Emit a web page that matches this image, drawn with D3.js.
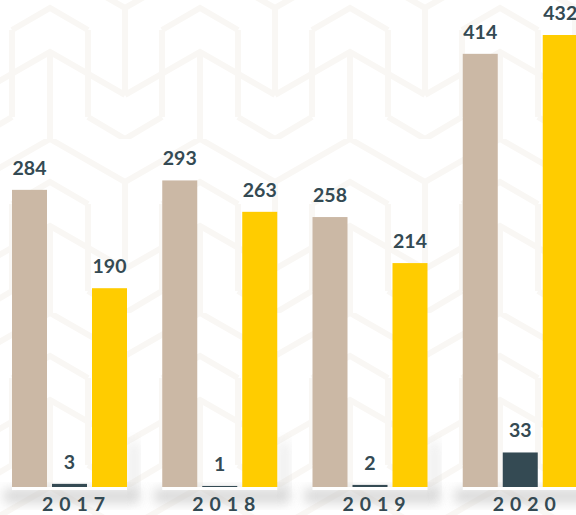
<!DOCTYPE html>
<html><head><meta charset="utf-8">
<script src="https://cdn.jsdelivr.net/npm/d3@7"></script>
<style>html,body{margin:0;padding:0;background:#fff;}svg{display:block;}</style>
</head><body><svg id="c" width="576" height="515"></svg>
<script>
const years = ["2017","2018","2019","2020"];
const seriesA = [284, 293, 258, 414];
const seriesB = [3, 1, 2, 33];
const seriesC = [190, 263, 214, 432];
const seriesColors = ["#cbb8a5", "#344a53", "#ffcc00"];

const W = 576, H = 515;
const svg = d3.select("#c");
const defs = svg.append("defs");

// faint background pattern
const pat = defs.append("pattern").attr("id","bgp").attr("patternUnits","userSpaceOnUse")
  .attr("width",150).attr("height",174).attr("x",-25).attr("y",-35);
const pth = [
  "M0,43 L75,0 L150,43", "M0,130 L75,87 L150,130", "M0,43 L0,130", "M150,43 L150,130",
  "M75,87 L75,174", "M37,65 L37,152", "M113,65 L113,152", "M37,65 L75,43 L113,65",
  "M0,174 L37,152", "M150,174 L113,152"
];
pth.forEach(p => pat.append("path").attr("d",p).attr("fill","none").attr("stroke","#f9f7f4").attr("stroke-width",6));
svg.append("rect").attr("width",W).attr("height",H).attr("fill","url(#bgp)");

const blur = defs.append("filter").attr("id","blur").attr("x","-20%").attr("y","-50%").attr("width","140%").attr("height","200%");
blur.append("feGaussianBlur").attr("stdDeviation",6);

const x0 = d3.scaleBand().domain(years).range([-13, 588]).paddingInner(0).paddingOuter(0);
const keys = ["a","b","c"];
const x1 = d3.scaleBand().domain(keys).range([25, 140]).paddingInner(0.125);
const baseY = 487;
const y = d3.scaleLinear().domain([0, 432]).range([baseY, baseY - 452]);

const data = years.map((yr,i) => ({year: yr, vals: [seriesA[i], seriesB[i], seriesC[i]]}));

const groups = svg.selectAll("g.grp").data(data).join("g").attr("class","grp")
  .attr("transform", d => `translate(${x0(d.year)},0)`);

// soft shadows
groups.append("rect").attr("x", x1("a")-8).attr("y", baseY+2).attr("width", x1("c")+x1.bandwidth()-x1("a")+20).attr("height", 14)
  .attr("fill","#bdbdbd").attr("opacity",0.6).attr("filter","url(#blur)");
groups.append("rect").attr("x", x1("c")+x1.bandwidth()+2).attr("y", baseY-45).attr("width", 10).attr("height", 55)
  .attr("fill","#c8c8c8").attr("opacity",0.35).attr("filter","url(#blur)");
groups.append("rect").attr("x", x1("a")).attr("y", baseY).attr("width", x1("c")+x1.bandwidth()-x1("a")).attr("height", 3).attr("fill","#fff");

groups.selectAll("rect.bar").data(d => d.vals.map((v,k)=>({k:keys[k], v, ci:k}))).join("rect").attr("class","bar")
  .attr("x", d => x1(d.k)).attr("width", x1.bandwidth())
  .attr("y", d => y(d.v)).attr("height", d => baseY - y(d.v))
  .attr("fill", d => seriesColors[d.ci]);

groups.selectAll("text.val").data(d => d.vals.map((v,k)=>({k:keys[k], v}))).join("text").attr("class","val")
  .attr("x", d => x1(d.k) + x1.bandwidth()/2).attr("y", d => y(d.v) - 15)
  .attr("text-anchor","middle").attr("font-family","Lato, sans-serif").attr("font-weight",700)
  .attr("font-size",19.5).attr("fill","#344a53").text(d => d.v);

groups.append("text").attr("x", (x1("a") + x1("c") + x1.bandwidth())/2 + 7).attr("y", 511)
  .attr("text-anchor","middle").attr("font-family","Lato, sans-serif").attr("font-weight",700)
  .attr("font-size",19.5).attr("letter-spacing",6).attr("fill","#344a53").text(d => d.year);
</script></body></html>
